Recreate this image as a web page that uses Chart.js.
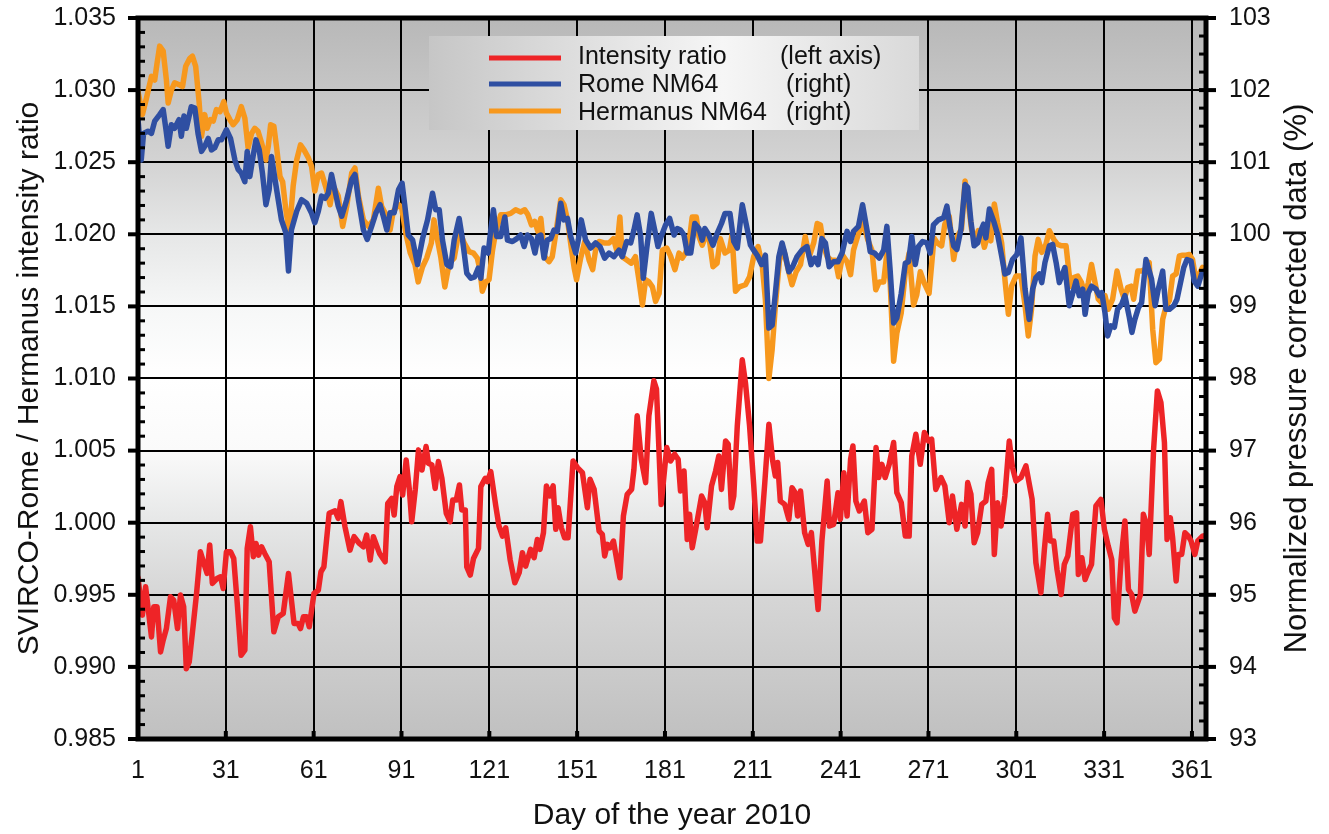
<!DOCTYPE html>
<html>
<head>
<meta charset="utf-8">
<title>SVIRCO-Rome / Hermanus 2010</title>
<script src="https://cdn.jsdelivr.net/npm/chart.js@4.4.1/dist/chart.umd.min.js"></script>
<style>
  html, body { margin: 0; padding: 0; background: #fff; }
  #wrap { width: 1329px; height: 834px; }
</style>
</head>
<body>
<div id="wrap"><canvas id="chartRatio" width="1329" height="834"></canvas></div>
<script>
// =====================================
// DADOS
// =====================================

const dayTicks = [1, 31, 61, 91, 121, 151, 181, 211, 241, 271, 301, 331, 361];
const ratioTicks = [0.985, 0.990, 0.995, 1.000, 1.005, 1.010, 1.015, 1.020, 1.025, 1.030, 1.035];
const percentTicks = [93, 94, 95, 96, 97, 98, 99, 100, 101, 102, 103];

const legendNames = ['Intensity ratio', 'Rome NM64', 'Hermanus NM64'];
const legendAxes = ['(left axis)', '(right)', '(right)'];

// [dia, razão SVIRCO-Rome / Hermanus]
const intensityRatio = [
  [1,0.99620],[2.5,0.99359],[3.6,0.99556],[4.4,0.99417],[5.6,0.99208],[6.4,0.99417],[7.5,0.99417],[8.7,0.99104],
  [9.6,0.99185],[10.7,0.99266],[12.1,0.99486],[13.2,0.99463],[14.5,0.99266],[15.5,0.99498],[16.6,0.99417],[17.5,0.98988],
  [18.5,0.99035],[19.8,0.99278],[21,0.99509],[22.3,0.99799],[23.5,0.99718],[24.6,0.99648],[25.5,0.99845],[26.4,0.99579],
  [28,0.99613],[29.2,0.99625],[30.1,0.99544],[31.2,0.99799],[32.6,0.99799],[33.7,0.99752],[34.9,0.99440],[36.2,0.99081],
  [37.5,0.99116],[38.3,0.99822],[39.4,0.99972],[40.4,0.99764],[41.3,0.99856],[42.2,0.99775],[43.2,0.99833],[44.3,0.99787],
  [45.8,0.99729],[47.4,0.99243],[48.9,0.99347],[50.6,0.99370],[52.4,0.99648],[54.3,0.99301],[55.7,0.99301],[56.5,0.99266],
  [57.5,0.99347],[58.6,0.99347],[59.5,0.99278],[61.1,0.99509],[62.6,0.99532],[63.5,0.99660],[64.5,0.99694],[66.3,1.00065],
  [68.3,1.00083],[69.4,1.00030],[70.3,1.00146],[71.7,0.99972],[73.4,0.99810],[74.8,0.99903],[76.6,0.99856],[78,0.99833],
  [79.1,0.99914],[80.3,0.99741],[81.4,0.99903],[83.5,0.99787],[85.4,0.99729],[86.3,1.00134],[87.7,1.00169],[88.5,1.00053],
  [89.4,1.00250],[90.5,1.00320],[91.4,1.00192],[92.6,1.00435],[93.7,1.00227],[94.5,1.00007],[95.7,1.00227],[96.8,1.00505],
  [98,1.00366],[99.4,1.00528],[100.2,1.00412],[101.4,1.00400],[102.5,1.00238],[103.6,1.00424],[104.8,1.00308],[106.3,1.00065],
  [107.6,1.00007],[108.5,1.00157],[109.7,1.00157],[110.8,1.00262],[111.6,1.00088],[112.8,1.00088],[113.3,0.99694],[114.5,0.99637],
  [115.6,0.99752],[117.3,0.99822],[118.1,1.00250],[119.6,1.00308],[120.4,1.00285],[121.5,1.00354],[123.2,1.00116],[124.3,0.99977],
  [125.5,0.99907],[126.6,0.99965],[128.1,0.99745],[129.7,0.99583],[131.2,0.99653],[132.3,0.99792],[133.4,0.99699],[135.1,0.99815],
  [136.3,0.99757],[137.4,0.99884],[138.3,0.99815],[139.5,0.99931],[140.5,1.00255],[141.6,1.00185],[142.8,1.00255],[143.7,0.99954],
  [144.5,1.00104],[145.6,0.99965],[146.7,0.99896],[147.9,0.99896],[149.6,1.00428],[151.1,1.00382],[152.8,1.00347],[154.5,1.00104],
  [155.4,1.00301],[156.8,1.00231],[158.5,0.99942],[159.6,0.99919],[160.4,0.99769],[161.3,0.99850],[162.2,0.99826],[163.4,0.99873],
  [164.5,0.99745],[165.6,0.99618],[166.8,1.00046],[168.1,1.00197],[169.6,1.00231],[170.4,1.00370],[171.5,1.00741],[172.9,1.00440],
  [174.4,1.00278],[175.5,1.00741],[177.2,1.00984],[178.1,1.00926],[179.7,1.00127],[181.6,1.00521],[182.9,1.00428],[184.3,1.00475],
  [185.5,1.00440],[186.3,1.00220],[187.5,1.00359],[188.6,0.99884],[189.4,1.00058],[190.3,0.99826],[191.5,0.99954],[193.5,1.00185],
  [194.6,1.00139],[195.4,0.99965],[196.9,1.00255],[198.3,1.00359],[199.4,1.00463],[200.3,1.00231],[201.7,1.00567],[202.6,1.00544],
  [203.7,1.00104],[204.5,1.00185],[205.7,1.00671],[207.4,1.01130],[208.5,1.00968],[209.9,1.00671],[211.3,1.00266],[212.5,0.99873],
  [213.6,0.99873],[215.1,1.00278],[216.5,1.00683],[217.8,1.00428],[218.7,1.00324],[219.5,1.00417],[220.4,1.00150],[221.9,1.00127],
  [223.3,1.00023],[224.4,1.00243],[225.5,1.00208],[226.3,1.00046],[227.3,1.00220],[228.7,0.99931],[229.9,0.99850],[231,0.99931],
  [232.1,0.99676],[233.3,0.99398],[234.6,0.99873],[236.4,1.00289],[237.2,0.99977],[238.6,0.99988],[240.1,1.00208],[240.9,1.00023],
  [242.1,1.00347],[243.2,1.00046],[244.4,1.00440],[245.2,1.00532],[246.2,1.00150],[247.4,1.00081],[249.1,1.00150],[250.3,0.99931],
  [251.7,0.99954],[253.1,1.00521],[254,1.00313],[255.1,1.00405],[256.2,1.00313],[257.6,1.00405],[259.1,1.00556],[260.2,1.00208],
  [261.7,1.00139],[263.1,0.99907],[264.4,0.99907],[265.3,1.00463],[266.7,1.00613],[268.2,1.00405],[269.6,1.00625],[271,1.00567],
  [272.1,1.00579],[273.5,1.00231],[275.3,1.00313],[276.6,1.00255],[278.1,1.00000],[279.2,1.00185],[280.7,0.99954],[282.3,1.00127],
  [283.5,0.99977],[284.4,1.00278],[285.5,1.00197],[286.6,0.99861],[287.8,0.99931],[289.2,1.00127],[290.6,1.00150],[291.4,1.00278],
  [292.6,1.00370],[293.5,0.99780],[294.6,1.00139],[295.8,0.99977],[297.1,1.00185],[298.6,1.00567],[299.7,1.00382],[300.9,1.00289],
  [302.6,1.00313],[304.3,1.00394],[306.4,1.00162],[307.7,0.99722],[309.4,0.99514],[310.6,0.99815],[311.7,1.00058],[312.6,0.99873],
  [313.8,0.99873],[314.9,0.99676],[316.3,0.99502],[317.4,0.99711],[318.6,0.99769],[320.3,1.00058],[321.6,1.00069],[322.2,0.99641],
  [323.4,0.99757],[324.5,0.99606],[325.4,0.99653],[326.7,0.99711],[328.2,1.00116],[329.9,1.00162],[331.1,0.99954],[332.4,0.99838],
  [333.6,0.99745],[334.5,0.99340],[335.4,0.99306],[336.8,0.99745],[338.1,1.00012],[339.3,0.99537],[340.4,0.99502],[341.5,0.99387],
  [343.4,0.99502],[344.4,1.00058],[345.5,0.99988],[346.4,0.99780],[347.9,1.00509],[349.2,1.00914],[350.4,1.00833],[351.6,1.00556],
  [352.5,0.99884],[353.6,1.00035],[354.4,0.99896],[355.6,0.99595],[356.3,0.99780],[357.5,0.99780],[358.6,0.99931],[359.8,0.99907],
  [360.7,0.99873],[362,0.99780],[363,0.99873],[364.6,0.99907],[365.3,0.99910]
];

// [dia, % normalizado] Rome NM64
const romeNM64 = [
  [1,101.60],[2.1,101.03],[2.9,101.40],[4.4,101.43],[5.6,101.40],[6.7,101.57],[8.4,101.66],[9.6,101.73],[10.5,101.47],
  [11.3,101.22],[12.4,101.52],[13.5,101.47],[15,101.59],[15.8,101.36],[16.7,101.64],[17.5,101.47],[19.2,101.77],[20.4,101.75],
  [21.5,101.40],[22.7,101.15],[23.8,101.22],[25,101.33],[26.1,101.17],[27.2,101.20],[28.4,101.31],[29.5,101.31],[31.2,101.45],
  [32.6,101.33],[34.1,101.03],[35.2,100.90],[36.3,100.85],[37.5,100.73],[38.3,101.15],[39.2,100.80],[40.3,101.08],[41.3,101.31],
  [42.4,101.17],[43.5,100.85],[44.7,100.41],[45.8,100.62],[46.6,101.08],[47.8,100.76],[48.9,100.48],[50,100.20],[51.5,100.02],
  [52.4,99.49],[53.4,100.06],[55.2,100.32],[56.9,100.48],[58.6,100.43],[60.3,100.29],[61.4,100.16],[62.6,100.32],[63.7,100.53],
  [64.9,100.50],[66,100.57],[67.1,100.83],[68.3,100.60],[69.4,100.39],[70.6,100.25],[72.3,100.48],[74,100.76],[75.1,100.83],
  [76.3,100.48],[78,100.06],[79.3,99.93],[80.8,100.11],[82.3,100.30],[83.7,100.41],[84.8,100.25],[86,100.06],[87.1,100.30],
  [88.5,100.30],[90,100.62],[91.2,100.71],[92.1,100.41],[93.3,99.99],[94.8,99.92],[96.5,99.58],[98.2,99.94],[99.9,100.20],
  [101.6,100.57],[102.7,100.34],[103.9,100.34],[105,99.92],[106.5,99.58],[107.8,99.55],[109,99.92],[110.7,100.22],[111.8,99.94],
  [113.3,99.46],[114.7,99.39],[116,99.41],[117.2,99.53],[118.1,99.39],[119.2,99.81],[120.6,99.74],[121.5,100.06],[122.4,100.34],
  [123.5,99.97],[124.9,99.97],[126.3,100.24],[127.2,99.92],[128.9,99.90],[130.4,99.94],[131.7,99.99],[132.9,99.83],[134,99.99],
  [135.4,99.94],[136.6,99.74],[137.6,99.97],[138.6,99.99],[139.7,99.67],[140.8,99.92],[142,99.94],[143.1,100.06],[144.2,100.04],
  [145.4,100.43],[146.5,100.20],[147.7,100.22],[148.8,99.97],[150.5,99.74],[151.4,99.92],[152.4,100.20],[153.9,99.92],[155.6,99.81],
  [157.3,99.88],[158.8,99.83],[160.4,99.67],[161.9,99.74],[163.6,99.69],[165.3,99.78],[166.4,99.69],[167.9,99.90],[169.3,99.88],
  [170.4,100.06],[171.5,100.27],[172.7,99.97],[173.6,99.39],[174.7,99.78],[176.3,100.29],[177.5,100.06],[178.6,99.83],[179.7,99.97],
  [181.2,100.13],[182.6,100.22],[184.1,99.99],[185.2,100.08],[186.3,100.06],[187.5,99.99],[188.6,99.74],[189.8,99.74],[191.2,100.15],
  [192.6,100.08],[193.7,99.92],[194.6,100.08],[196,99.99],[197.4,99.85],[198.8,100.01],[200.3,100.15],[201.5,100.29],[203.2,100.29],
  [204.5,99.90],[205.7,99.81],[207.4,100.41],[208.7,100.15],[210.2,99.85],[211.3,99.78],[212.5,99.71],[214,99.58],[215.3,99.71],
  [216.5,98.70],[217.6,98.74],[218.7,99.18],[219.9,99.69],[221,99.88],[222.1,99.71],[223.3,99.48],[224.6,99.55],[226.1,99.69],
  [227.8,99.78],[229.5,99.83],[230.9,99.58],[232.1,99.67],[233.3,99.58],[234.6,99.94],[235.8,99.88],[237.1,99.55],[238.6,99.62],
  [240.1,99.62],[241.5,99.74],[243.2,100.04],[244.4,99.90],[245.4,100.04],[247.1,100.11],[248.5,100.41],[250,100.06],[251.1,99.76],
  [252.6,99.74],[254.2,99.67],[255.7,99.78],[256.8,100.11],[257.9,99.51],[259.1,98.77],[260.2,98.84],[261.7,99.18],[263.1,99.60],
  [264.2,99.62],[265.3,99.97],[266.5,99.58],[267.6,99.83],[269,99.90],[270.5,99.88],[271.6,99.74],[272.7,100.13],[274.4,100.20],
  [276.2,100.23],[277.3,100.39],[278.4,100.09],[279.6,99.84],[280.7,99.79],[282.1,100.07],[283.5,100.69],[284.4,100.65],[285.5,100.18],
  [286.6,99.84],[287.8,99.88],[288.9,100.05],[289.8,100.14],[290.6,99.95],[291.8,100.35],[293.3,100.18],[294.6,100.00],[296,99.70],
  [297.1,99.45],[298.3,99.47],[299.7,99.65],[301.2,99.72],[302.6,99.95],[304,99.24],[305.4,98.82],[306.6,99.24],[307.7,99.40],
  [308.9,99.45],[309.7,99.33],[310.8,99.61],[312.3,99.84],[313.4,99.86],[314.6,99.61],[315.7,99.33],[316.8,99.45],[317.6,99.54],
  [319.1,99.01],[320.2,99.17],[321.4,99.35],[322.5,99.15],[323.7,99.24],[324.5,98.89],[325.6,99.19],[326.7,99.28],[328.2,99.24],
  [329.4,99.15],[330.2,99.19],[331.3,98.91],[332.2,98.59],[333.3,98.73],[334.5,98.71],[335.6,98.96],[337,99.03],[338.1,99.15],
  [339.6,98.85],[340.5,98.64],[341.5,98.82],[342.7,98.98],[343.8,99.05],[345.3,99.65],[346.1,99.54],[347.2,99.38],[348.4,99.01],
  [349.5,99.24],[351,99.49],[352.1,98.96],[353.3,98.96],[354.8,99.01],[355.9,99.10],[357,99.31],[358.2,99.54],[359.3,99.65],
  [360.7,99.63],[361.8,99.35],[363,99.28],[364.3,99.45],[365.2,99.49]
];

// [dia, % normalizado] Hermanus NM64
const hermanusNM64 = [
  [1,101.98],[2.5,101.66],[3.9,101.89],[5.6,102.19],[6.7,102.14],[7.5,102.37],[8.4,102.61],[9.6,102.54],[10.7,102.14],
  [11.3,101.82],[12.4,102.00],[13.5,102.10],[15.3,102.07],[16.2,102.05],[17.3,102.33],[18.7,102.44],[19.6,102.47],[20.7,102.33],
  [21.9,101.82],[22.7,101.36],[23.8,101.66],[24.6,101.47],[25.7,101.59],[26.7,101.57],[27.8,101.73],[29,101.70],[30.3,101.84],
  [31.2,101.68],[32.4,101.59],[33.5,101.52],[34.9,101.59],[36.3,101.77],[37.5,101.61],[38.6,101.20],[39.8,101.40],[40.9,101.47],
  [42,101.43],[43.2,101.27],[44.7,101.03],[45.5,101.22],[46.3,101.52],[47.4,101.50],[48.3,101.22],[49.5,100.80],[50.4,100.73],
  [51.5,100.34],[52.7,100.02],[54,100.67],[55.2,101.03],[56.5,101.24],[57.7,101.17],[59.2,101.06],[60.3,100.94],[61.4,100.60],
  [62.6,100.83],[63.7,100.85],[65.4,100.62],[66.6,100.41],[67.7,100.67],[69.4,100.53],[70.9,100.11],[72.3,100.39],[74,100.85],
  [75.1,100.92],[76.3,100.53],[78,100.20],[79.7,100.11],[81.4,100.20],[83.1,100.64],[84.2,100.39],[86,100.25],[87.1,100.06],
  [88.2,100.32],[90,100.41],[91,100.38],[92.5,100.01],[94,99.74],[95.6,99.58],[96.7,99.34],[98.2,99.55],[99.6,99.67],
  [101.2,99.88],[102.1,100.20],[103.3,99.92],[104.4,99.69],[105.8,99.27],[107.3,99.60],[109,99.67],[110.7,100.06],[112.4,99.88],
  [114.1,99.76],[115.6,99.74],[116.9,99.67],[117.8,99.51],[118.6,99.21],[119.8,99.34],[120.9,99.37],[122.1,99.78],[123.2,100.04],
  [124.9,100.27],[126.6,100.27],[128.3,100.29],[130,100.34],[131.7,100.31],[133.1,100.34],[134.2,100.27],[135.4,100.13],[136.5,100.18],
  [137.6,100.04],[138.6,100.22],[139.9,99.69],[141.4,99.62],[142.5,99.69],[143.7,100.01],[145.4,100.48],[146.5,100.41],[147.7,100.20],
  [149,99.81],[150,99.53],[150.8,99.37],[152.2,99.67],[153.6,99.90],[155.1,99.64],[156.3,99.51],[157.3,99.78],[158.5,99.90],
  [160.2,99.88],[161.9,99.88],[163.4,99.94],[164.5,99.78],[165.6,100.24],[166.4,99.69],[168.1,99.64],[169.5,99.60],[170.9,99.69],
  [172.1,99.37],[173.3,99.02],[174.4,99.37],[175.5,99.34],[176.7,99.27],[177.8,99.07],[179,99.18],[180.1,99.78],[181.6,99.81],
  [182.9,99.70],[184.4,99.51],[185.8,99.74],[186.9,99.67],[188,99.74],[189.2,99.88],[190.3,100.24],[191.7,100.24],[192.6,99.97],
  [193.7,99.85],[194.9,99.97],[196,99.97],[197.4,99.55],[198.8,99.60],[199.9,99.94],[201.5,99.74],[203,99.78],[203.9,99.99],
  [205.1,99.21],[206.4,99.27],[208.5,99.30],[209.9,99.41],[211.3,99.69],[212.8,99.83],[214.2,99.58],[215.3,99.09],[216.5,98.00],
  [217.6,98.40],[218.7,99.00],[220.1,99.64],[221.6,99.78],[223.1,99.51],[224.4,99.30],[225.8,99.48],[227.3,99.58],[228.9,99.97],
  [230.3,99.69],[231.8,99.88],[233,100.15],[234.1,100.13],[235.2,99.83],[236.4,99.69],[237.8,99.64],[239.2,99.64],[240.3,99.41],
  [241.7,99.71],[243.2,99.62],[244.4,99.44],[245.4,99.78],[247.1,100.01],[248.8,100.15],[250.3,99.92],[251.7,99.78],[253,99.23],
  [254.2,99.34],[255.7,99.34],[256.8,99.74],[257.9,99.34],[259.1,98.24],[260.2,98.63],[261.7,98.91],[263.1,99.48],[264.4,99.74],
  [265.9,99.02],[267,99.16],[268.2,99.48],[269.6,99.32],[271.2,99.18],[272.9,99.95],[274,99.88],[275.5,99.84],[276.6,100.14],
  [278.1,100.25],[279.6,99.65],[281,99.98],[282.3,100.07],[283.5,100.74],[284.6,100.44],[285.7,100.07],[286.9,99.93],[288,100.05],
  [289.2,99.98],[290.1,99.82],[291.2,99.98],[292.3,99.91],[293.5,100.42],[294.6,100.16],[296,99.88],[297.1,99.38],[298.3,98.89],
  [299.4,99.28],[300.9,99.42],[302.6,99.42],[304,99.01],[305.1,98.59],[306.2,98.96],[307.4,99.70],[308.5,99.93],[309.7,99.75],
  [311.1,99.86],[312.3,100.05],[313.8,99.93],[315.1,99.86],[316.5,99.84],[318,99.84],[319.5,99.28],[320.6,99.40],[322,99.42],
  [323.3,99.33],[324.5,99.15],[325.6,99.33],[326.7,99.58],[327.9,99.33],[329,99.10],[330.2,99.05],[331.3,99.15],[332.4,98.96],
  [333.9,99.10],[335.4,99.49],[336.8,99.24],[337.9,99.10],[339,99.26],[340.2,99.28],[341.1,99.10],[342.5,99.49],[343.8,99.49],
  [345.3,99.52],[346.4,99.61],[347.6,98.68],[348.7,98.22],[349.9,98.27],[351,98.82],[352.2,99.01],[353.3,99.08],[354.4,99.42],
  [355.6,99.45],[356.7,99.70],[357.8,99.71],[359,99.71],[360.1,99.72],[361.2,99.65],[362.4,99.35],[363.5,99.45],[364.6,99.54],
  [365.3,99.52]
];

// =====================================
// ESTILO
// =====================================

const FONT = "'Liberation Sans', Arial, Helvetica, sans-serif";
const TXT = '#111';
const colors = { ratio: '#ee2427', rome: '#2f4fa2', herm: '#f7981d' };

Chart.defaults.font.family = FONT;
Chart.defaults.color = TXT;

const toXY = arr => arr.map(([x, y]) => ({ x, y }));

// fundo degradê + moldura + ticks menores + legenda
const plotDecor = {
    id: 'plotDecor',
    beforeDraw(chart) {
        const { ctx, chartArea: a } = chart;
        const g = ctx.createLinearGradient(0, a.top, 0, a.bottom);
        g.addColorStop(0.00, '#b8b8b8');
        g.addColorStop(0.20, '#d3d3d3');
        g.addColorStop(0.30, '#e6e7e7');
        g.addColorStop(0.40, '#f6f7f7');
        g.addColorStop(0.50, '#ffffff');
        g.addColorStop(0.60, '#fafafa');
        g.addColorStop(0.70, '#e6e7e7');
        g.addColorStop(0.80, '#d6d6d6');
        g.addColorStop(1.00, '#c0c0c0');
        ctx.save();
        ctx.fillStyle = g;
        ctx.fillRect(a.left, a.top, a.width, a.height);
        ctx.restore();
    },
    afterDatasetsDraw(chart) {
        const { ctx } = chart;
        ctx.save();
        const bx = 429, by = 36, bw = 490, bh = 94;
        const g = ctx.createLinearGradient(bx, 0, bx + bw, 0);
        g.addColorStop(0, '#c6c6c6');
        g.addColorStop(0.6, '#f6f6f6');
        g.addColorStop(1, '#d9d9d9');
        ctx.fillStyle = g;
        ctx.fillRect(bx, by, bw, bh);

        const lineY = [58, 84, 111];
        const textY = [57, 85, 113];
        const cols = [colors.ratio, colors.rome, colors.herm];
        ctx.lineWidth = 5;
        ctx.font = `25px ${FONT}`;
        ctx.textBaseline = 'middle';
        ctx.fillStyle = TXT;
        legendNames.forEach((name, i) => {
            ctx.strokeStyle = cols[i];
            ctx.beginPath();
            ctx.moveTo(489, lineY[i]);
            ctx.lineTo(561, lineY[i]);
            ctx.stroke();
            ctx.fillText(name, 578, textY[i]);
            ctx.fillText(legendAxes[i], i === 0 ? 780 : 786, textY[i]);
        });
        ctx.restore();
    },
    afterDraw(chart) {
        const { ctx, chartArea: a, scales } = chart;
        ctx.save();
        ctx.fillStyle = '#000';

        // eixo esquerdo: menores a cada 0.001
        for (let i = 0; i <= 50; i++) {
            const y = scales.y.getPixelForValue(0.985 + i * 0.001);
            if (i % 5 === 0) ctx.fillRect(a.left - 10, y - 2, 12, 4);
            else ctx.fillRect(a.left, y - 1.5, 7, 3);
        }
        // eixo direito: menores a cada 0.25
        for (let i = 0; i <= 40; i++) {
            const y = scales.y2.getPixelForValue(93 + i * 0.25);
            if (i % 4 === 0) ctx.fillRect(a.right - 7, y - 2, 17, 4);
            else ctx.fillRect(a.right - 7, y - 1.5, 7, 3);
        }
        // marcas no eixo x
        dayTicks.forEach(d => {
            const x = scales.x.getPixelForValue(d);
            ctx.fillRect(x - 2, a.bottom - 8, 4, 8);
        });

        ctx.strokeStyle = '#000';
        ctx.lineWidth = 5;
        ctx.strokeRect(a.left, a.top, a.width, a.height);

        // título do eixo direito (lido de baixo para cima)
        ctx.translate(1297, (a.top + a.bottom) / 2);
        ctx.rotate(-Math.PI / 2);
        ctx.font = `31px ${FONT}`;
        ctx.fillStyle = TXT;
        ctx.textAlign = 'center';
        ctx.textBaseline = 'middle';
        ctx.fillText('Normalized pressure corrected data (%)', 0, 0);
        ctx.restore();
    }
};

const tickFont = { size: 25, family: FONT };
const titleFont = { size: 30, family: FONT };

// fixa a área do gráfico: sem folga extra pelos rótulos
const fixWidth = w => s => { s.width = w; s.paddingTop = 0; s.paddingBottom = 0; };

new Chart(document.getElementById('chartRatio'), {
    type: 'line',
    data: {
        datasets: [
            {
                label: legendNames[0],
                data: toXY(intensityRatio),
                yAxisID: 'y',
                borderColor: colors.ratio,
                order: 0
            },
            {
                label: legendNames[1],
                data: toXY(romeNM64),
                yAxisID: 'y2',
                borderColor: colors.rome,
                order: 1
            },
            {
                label: legendNames[2],
                data: toXY(hermanusNM64),
                yAxisID: 'y2',
                borderColor: colors.herm,
                order: 2
            }
        ]
    },
    options: {
        responsive: false,
        animation: false,
        events: [],
        layout: { padding: { top: 18 } },
        elements: {
            point: { radius: 0 },
            line: { borderWidth: 5.5, tension: 0, borderJoinStyle: 'round', borderCapStyle: 'round' }
        },
        plugins: {
            legend: { display: false },
            tooltip: { enabled: false }
        },
        scales: {
            x: {
                type: 'linear',
                min: 1,
                max: 365.8,
                afterBuildTicks: s => { s.ticks = dayTicks.map(v => ({ value: v })); },
                afterFit: s => { s.height = 95; s.paddingLeft = 0; s.paddingRight = 0; },
                grid: { color: '#000', lineWidth: 2, drawTicks: false },
                border: { display: false },
                ticks: { font: tickFont, color: TXT, padding: 17, maxRotation: 0, autoSkip: false },
                title: {
                    display: true,
                    text: 'Day of the year 2010',
                    font: titleFont,
                    color: TXT,
                    padding: { top: 1, bottom: 0 }
                }
            },
            y: {
                position: 'left',
                min: 0.985,
                max: 1.035,
                afterBuildTicks: s => { s.ticks = ratioTicks.map(v => ({ value: v })); },
                afterFit: fixWidth(138),
                grid: { color: '#000', lineWidth: 2, drawTicks: false },
                border: { display: false },
                ticks: { font: tickFont, color: TXT, padding: 22, callback: v => v.toFixed(3) },
                title: {
                    display: true,
                    text: 'SVIRCO-Rome / Hermanus intensity ratio',
                    font: titleFont,
                    color: TXT,
                    padding: { top: 12, bottom: 0 }
                }
            },
            y2: {
                position: 'right',
                min: 93,
                max: 103,
                afterBuildTicks: s => { s.ticks = percentTicks.map(v => ({ value: v })); },
                afterFit: fixWidth(123),
                grid: { display: false, drawTicks: false },
                border: { display: false },
                ticks: { font: tickFont, color: TXT, padding: 23 }
            }
        }
    },
    plugins: [plotDecor]
});
</script>
</body>
</html>
